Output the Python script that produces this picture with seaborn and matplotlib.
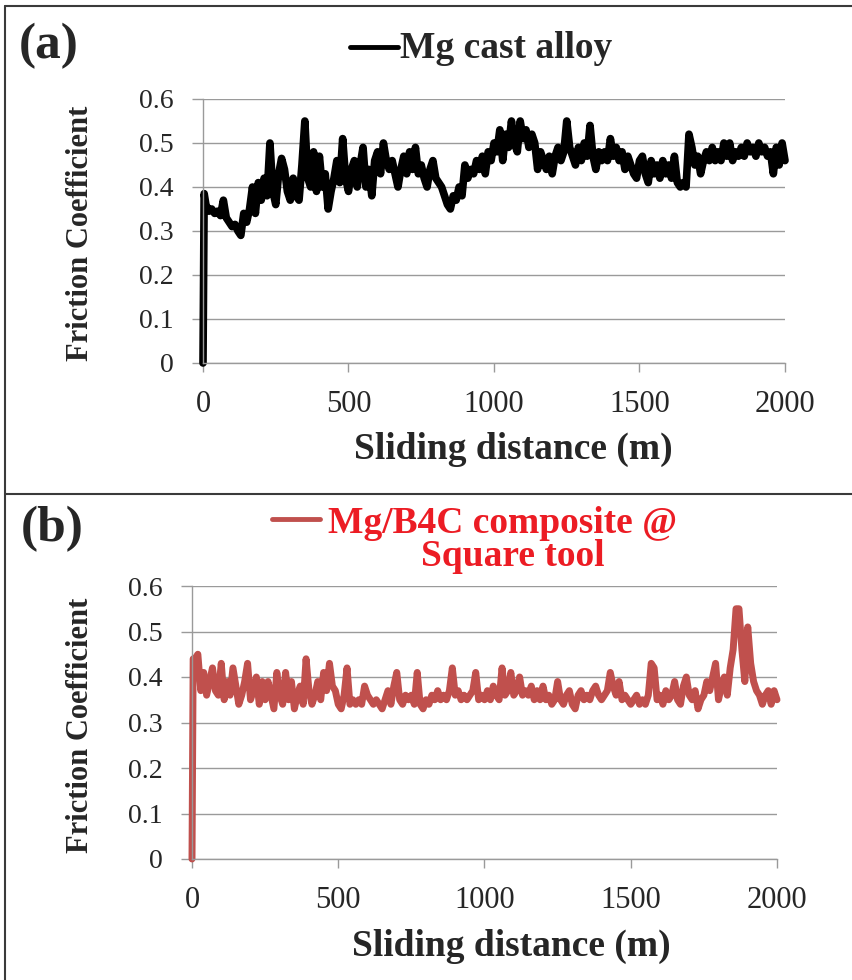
import matplotlib
matplotlib.use("Agg")
import matplotlib.pyplot as plt
import seaborn as sns
from matplotlib.lines import Line2D

# sliding distance (m), shared by both tests
distance = [0, 4, 10, 20, 30, 40, 50, 60, 70, 80, 90, 100, 110, 120, 130, 140, 150, 160, 170, 180, 190,
            200, 210, 220, 230, 240, 250, 260, 270, 280, 290, 300, 310, 320, 330, 340, 350, 360, 370, 380, 390,
            400, 410, 420, 430, 440, 450, 460, 470, 480, 490, 500, 510, 520, 530, 540, 550, 560, 570, 580, 590,
            600, 610, 620, 630, 640, 650, 660, 670, 680, 690, 700, 710, 720, 730, 740, 750, 760, 770, 780, 790,
            800, 810, 820, 830, 840, 850, 860, 870, 880, 890, 900, 910, 920, 930, 940, 950, 960, 970, 980, 990,
            1000, 1010, 1020, 1030, 1040, 1050, 1060, 1070, 1080, 1090, 1100, 1110, 1120, 1130, 1140, 1150, 1160,
            1170, 1180, 1190, 1200, 1210, 1220, 1230, 1240, 1250, 1260, 1270, 1280, 1290, 1300, 1310, 1320, 1330,
            1340, 1350, 1360, 1370, 1380, 1390, 1400, 1410, 1420, 1430, 1440, 1450, 1460, 1470, 1480, 1490, 1500,
            1510, 1520, 1530, 1540, 1550, 1560, 1570, 1580, 1590, 1600, 1610, 1620, 1630, 1640, 1650, 1660, 1670,
            1680, 1690, 1700, 1710, 1720, 1730, 1740, 1750, 1760, 1770, 1780, 1790, 1800, 1810, 1820, 1830, 1840,
            1850, 1860, 1870, 1880, 1890, 1900, 1910, 1920, 1930, 1940, 1950, 1960, 1970, 1980, 1990, 2000]

# (a) Mg cast alloy
cof_cast = [0.0, 0.385, 0.36, 0.345, 0.35, 0.34, 0.345, 0.335, 0.37, 0.33, 0.32, 0.31, 0.315, 0.30, 0.29,
            0.34, 0.32, 0.35, 0.40, 0.34, 0.41, 0.37, 0.42, 0.38, 0.50, 0.39, 0.36, 0.43, 0.465, 0.44, 0.39,
            0.37, 0.42, 0.38, 0.37, 0.45, 0.55, 0.42, 0.40, 0.48, 0.39, 0.47, 0.40, 0.43, 0.35, 0.39, 0.42,
            0.46, 0.41, 0.51, 0.42, 0.39, 0.44, 0.46, 0.40, 0.45, 0.49, 0.40, 0.44, 0.38, 0.46, 0.48, 0.43,
            0.50, 0.46, 0.44, 0.46, 0.43, 0.40, 0.44, 0.47, 0.43, 0.48, 0.44, 0.49, 0.43, 0.45, 0.42, 0.40,
            0.44, 0.46, 0.42, 0.41, 0.40, 0.38, 0.36, 0.35, 0.38, 0.37, 0.40, 0.38, 0.45, 0.42, 0.44, 0.43,
            0.46, 0.44, 0.47, 0.43, 0.48, 0.46, 0.50, 0.48, 0.53, 0.46, 0.52, 0.49, 0.55, 0.50, 0.48, 0.55,
            0.51, 0.53, 0.49, 0.52, 0.50, 0.44, 0.48, 0.46, 0.44, 0.47, 0.43, 0.47, 0.49, 0.46, 0.48, 0.55,
            0.49, 0.47, 0.45, 0.49, 0.46, 0.50, 0.47, 0.54, 0.47, 0.44, 0.48, 0.46, 0.48, 0.46, 0.51, 0.47,
            0.49, 0.46, 0.48, 0.44, 0.47, 0.45, 0.43, 0.42, 0.46, 0.47, 0.43, 0.41, 0.46, 0.43, 0.45, 0.42,
            0.46, 0.43, 0.45, 0.42, 0.47, 0.41, 0.40, 0.41, 0.40, 0.52, 0.49, 0.45, 0.47, 0.43, 0.46, 0.48,
            0.46, 0.49, 0.46, 0.48, 0.46, 0.50, 0.47, 0.50, 0.46, 0.48, 0.47, 0.49, 0.47, 0.50, 0.48, 0.49,
            0.47, 0.50, 0.48, 0.49, 0.47, 0.48, 0.43, 0.49, 0.45, 0.50, 0.46]

# (b) Mg/B4C composite, square tool
cof_comp = [0.0, 0.44, 0.44, 0.45, 0.37, 0.41, 0.36, 0.39, 0.42, 0.37, 0.36, 0.43, 0.35, 0.39, 0.36, 0.42,
            0.38, 0.34, 0.36, 0.39, 0.43, 0.35, 0.37, 0.40, 0.34, 0.39, 0.35, 0.39, 0.36, 0.33, 0.41, 0.36,
            0.34, 0.41, 0.35, 0.39, 0.33, 0.36, 0.38, 0.34, 0.44, 0.37, 0.34, 0.36, 0.39, 0.35, 0.41, 0.37,
            0.43, 0.38, 0.37, 0.34, 0.33, 0.36, 0.42, 0.34, 0.35, 0.34, 0.35, 0.34, 0.38, 0.36, 0.35, 0.34,
            0.35, 0.34, 0.33, 0.35, 0.37, 0.34, 0.38, 0.41, 0.35, 0.34, 0.36, 0.35, 0.36, 0.34, 0.41, 0.34,
            0.33, 0.35, 0.34, 0.36, 0.35, 0.37, 0.35, 0.36, 0.35, 0.37, 0.42, 0.36, 0.37, 0.35, 0.36, 0.35,
            0.36, 0.37, 0.41, 0.35, 0.36, 0.35, 0.37, 0.35, 0.38, 0.36, 0.35, 0.42, 0.36, 0.37, 0.41, 0.36,
            0.37, 0.40, 0.36, 0.37, 0.36, 0.38, 0.35, 0.37, 0.35, 0.38, 0.35, 0.36, 0.34, 0.35, 0.39, 0.35,
            0.34, 0.36, 0.37, 0.34, 0.33, 0.36, 0.37, 0.35, 0.36, 0.35, 0.37, 0.38, 0.36, 0.35, 0.36, 0.37,
            0.41, 0.38, 0.36, 0.39, 0.35, 0.36, 0.35, 0.34, 0.35, 0.36, 0.34, 0.35, 0.34, 0.36, 0.43, 0.42,
            0.35, 0.36, 0.34, 0.37, 0.35, 0.36, 0.39, 0.35, 0.34, 0.38, 0.40, 0.36, 0.35, 0.37, 0.33, 0.35,
            0.36, 0.39, 0.37, 0.40, 0.43, 0.35, 0.38, 0.40, 0.36, 0.42, 0.46, 0.55, 0.55, 0.46, 0.39, 0.51,
            0.43, 0.39, 0.37, 0.36, 0.34, 0.36, 0.37, 0.34, 0.37, 0.35]

x_ticks = [0, 500, 1000, 1500, 2000]
x_tick_labels = ["0", "500", "1000", "1500", "2000"]
y_ticks = [0, 0.1, 0.2, 0.3, 0.4, 0.5, 0.6]
y_tick_labels = ["0", "0.1", "0.2", "0.3", "0.4", "0.5", "0.6"]

W, H = 853, 980
GRID = "#9a9a9a"

sns.set_style("white")
plt.rcParams["font.family"] = ["Liberation Serif", "DejaVu Serif"]


def px(x, y):
    # pixel position -> figure fraction
    return x / W, 1 - y / H


def style_axes(ax, xlab_xy, ylab_xy):
    ax.set_xlim(0, 2000)
    ax.set_ylim(0, 0.6)
    ax.set_xticks(x_ticks)
    ax.set_xticklabels(x_tick_labels)
    ax.set_yticks(y_ticks)
    ax.set_yticklabels(y_tick_labels)
    ax.grid(axis="y", color=GRID, linewidth=1.0)
    ax.grid(axis="x", visible=False)
    ax.set_axisbelow(True)
    for s in ["top", "right"]:
        ax.spines[s].set_visible(False)
    for s in ["left", "bottom"]:
        ax.spines[s].set_color(GRID)
        ax.spines[s].set_linewidth(1.0)
    ax.tick_params(axis="x", bottom=True, length=6.5, width=1, color=GRID, pad=13, labelsize=22)
    ax.tick_params(axis="y", left=True, length=8, width=1, color=GRID, pad=13, labelsize=20)
    ax.set_xlabel("Sliding distance (m)", fontsize=27, fontweight="bold")
    ax.set_ylabel("Friction Coefficient", fontsize=22, fontweight="bold")
    ax.xaxis.set_label_coords(*xlab_xy)
    ax.yaxis.set_label_coords(*ylab_xy)


fig = plt.figure(figsize=(W / 100, H / 100), dpi=100)

ax_a = fig.add_axes([203 / W, 1 - 363 / H, 582 / W, 264 / H])
sns.lineplot(x=distance, y=cof_cast, ax=ax_a, color="black", linewidth=5.5,
             estimator=None, sort=False, clip_on=False)
style_axes(ax_a, (0.5335, -0.262), (-0.186, 0.49))

ax_b = fig.add_axes([192 / W, 1 - 859 / H, 585 / W, 273 / H])
sns.lineplot(x=distance, y=cof_comp, ax=ax_b, color="#C0504D", linewidth=5.0,
             estimator=None, sort=False, clip_on=False)
style_axes(ax_b, (0.545, -0.255), (-0.166, 0.49))

# panel letters
fig.text(*px(19, 58), "(a)", fontsize=37, fontweight="bold", ha="left", va="baseline")
fig.text(*px(21, 541), "(b)", fontsize=37, fontweight="bold", ha="left", va="baseline")

# legend (a)
fig.add_artist(Line2D([350 / W, 398 / W], [1 - 47 / H] * 2, color="black", linewidth=3.5))
fig.text(*px(400, 58), "Mg cast alloy", fontsize=27, fontweight="bold", ha="left", va="baseline")

# legend (b)
red_text = "#EC1C24"
fig.add_artist(Line2D([272 / W, 320 / W], [1 - 519 / H] * 2, color="#C0504D", linewidth=3.5))
fig.text(*px(328, 533), "Mg/B4C composite @", fontsize=27, fontweight="bold", color=red_text,
         ha="left", va="baseline")
fig.text(*px(513, 566), "Square tool", fontsize=27, fontweight="bold", color=red_text,
         ha="center", va="baseline")

# panel frames
frame = "#3a3a3a"
fig.add_artist(Line2D([5 / W, 1], [1 - 6 / H] * 2, color=frame, linewidth=1.5))
fig.add_artist(Line2D([5 / W, 5 / W], [0, 1 - 6 / H], color=frame, linewidth=1.5))
fig.add_artist(Line2D([5 / W, 1], [1 - 494 / H] * 2, color=frame, linewidth=1.5))

fig.savefig("out.png", dpi=100)
